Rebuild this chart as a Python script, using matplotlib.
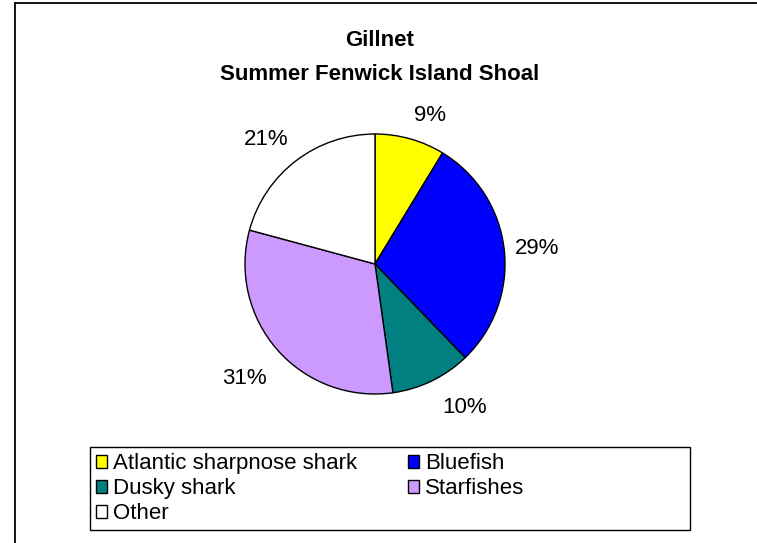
import numpy as np
import matplotlib
matplotlib.use("Agg")
import matplotlib.pyplot as plt
from matplotlib.patches import Rectangle, Patch
from matplotlib.lines import Line2D

categories = ["Atlantic sharpnose shark", "Bluefish", "Dusky shark", "Starfishes", "Other"]
values = [8.7, 29.1, 10.0, 31.4, 20.8]
colors = ["#FFFF00", "#0000FF", "#008080", "#CC99FF", "#FFFFFF"]
title_lines = ["Gillnet", "Summer Fenwick Island Shoal"]

plt.rcParams['font.family'] = ['Liberation Sans', 'DejaVu Sans']

W, H = 757, 543
fig = plt.figure(figsize=(W / 100, H / 100), dpi=100)

def fx(px):
    return px / W

def fy(py):
    return 1 - py / H

# outer border (top and left edges visible)
fig.add_artist(Line2D([fx(15), fx(15)], [fy(600), fy(3)], transform=fig.transFigure,
                      color='black', linewidth=1.3))
fig.add_artist(Line2D([fx(15), fx(756)], [fy(3), fy(3)], transform=fig.transFigure,
                      color='black', linewidth=1.3))

# title
fig.text(fx(380), fy(40), title_lines[0], ha='center', va='center',
         fontsize=16, fontweight='bold')
fig.text(fx(380), fy(75), title_lines[1], ha='center', va='center',
         fontsize=16, fontweight='bold')

# pie
cx, cy, r = 375, 264, 130
ax = fig.add_axes([fx(cx - r), fy(cy + r), (2 * r) / W, (2 * r) / H])
wedges, _ = ax.pie(values, colors=colors, startangle=90, counterclock=False,
                   radius=1, wedgeprops=dict(edgecolor='black', linewidth=1.0))
ax.set_xlim(-1, 1)
ax.set_ylim(-1, 1)
ax.set_aspect('auto')
ax.axis('off')

label_dist = [1.1, 1.08, 1.14, 1.16, 1.1]
label_nudge = [(0, 0), (0, 0), (0.02, 0), (0.04, -0.03), (0, 0)]
total = sum(values)
for w, v, d, (nx, ny) in zip(wedges, values, label_dist, label_nudge):
    ang = np.deg2rad((w.theta1 + w.theta2) / 2)
    x, y = np.cos(ang), np.sin(ang)
    ha = 'left' if x > 0.15 else ('right' if x < -0.15 else 'center')
    va = 'bottom' if y > 0.4 else ('top' if y < -0.4 else 'center')
    ax.text(d * x + nx, d * y + ny, f"{round(v / total * 100):.0f}%", ha=ha, va=va,
            fontsize=16, clip_on=False)

# legend
fig.patches.append(Rectangle((fx(90), fy(530)), fx(690) - fx(90), fy(447) - fy(530),
                             transform=fig.transFigure, fill=False,
                             edgecolor='black', linewidth=1.0))
handles = [Patch(facecolor=c, edgecolor='black', linewidth=1.0) for c in colors]
order = [0, 2, 4, 1, 3]
leg = fig.legend([handles[i] for i in order], [categories[i] for i in order],
                 loc='upper left', bbox_to_anchor=(fx(94), fy(451)), ncol=2,
                 frameon=False, fontsize=16, handlelength=0.5, handleheight=0.5,
                 handletextpad=0.25, columnspacing=2.3, labelspacing=0.18,
                 borderpad=0.1, borderaxespad=0)

fig.savefig("out.png", dpi=100)
